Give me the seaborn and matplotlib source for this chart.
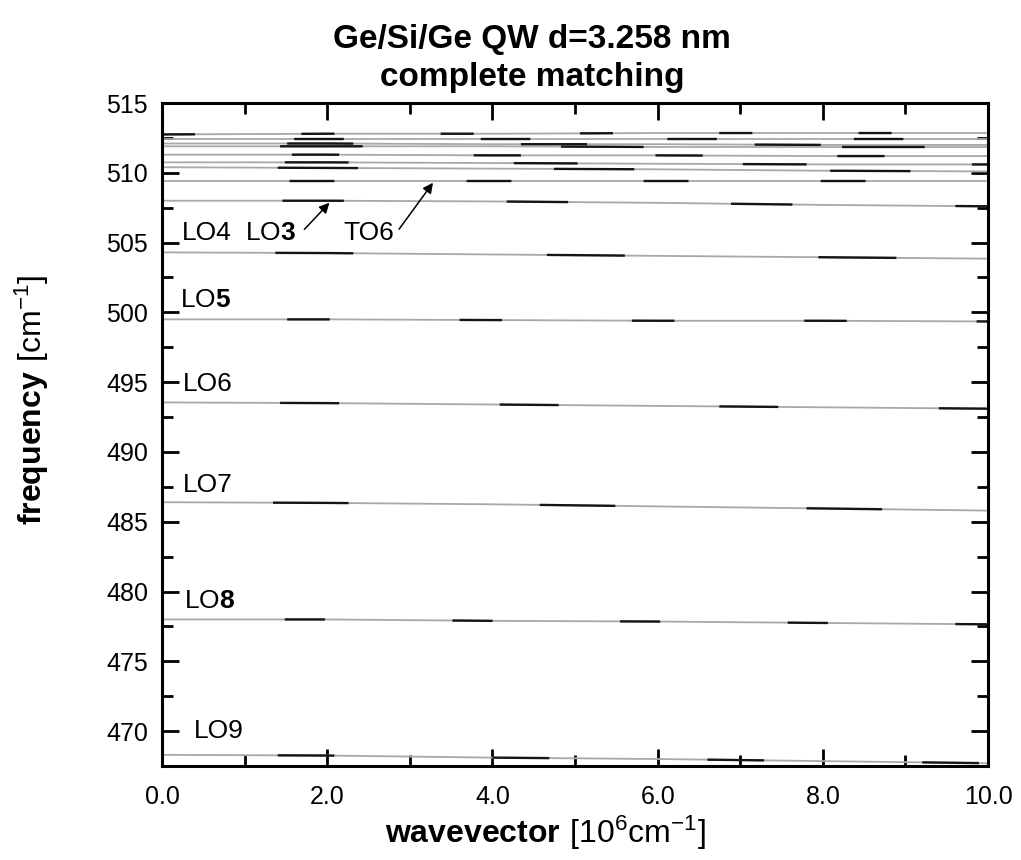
import numpy as np
import pandas as pd
import matplotlib
matplotlib.use("Agg")
import matplotlib.pyplot as plt
import seaborn as sns
from matplotlib.ticker import MultipleLocator

# wavevector [10^6 cm^-1]
k = [0, 2, 4, 6, 8, 10]

# phonon branches [cm^-1]
b1 = [512.75, 512.8, 512.8, 512.85, 512.85, 512.85]
b2 = [512.45, 512.45, 512.45, 512.45, 512.45, 512.45]
b3 = [512.1, 512.1, 512.05, 512.05, 512.0, 512.0]
b4 = [511.9, 511.9, 511.9, 511.85, 511.85, 511.85]
b5 = [511.3, 511.3, 511.25, 511.25, 511.2, 511.2]
b6 = [510.75, 510.75, 510.7, 510.65, 510.6, 510.6]
b7 = [510.4, 510.35, 510.3, 510.25, 510.15, 510.1]
to6 = [509.4, 509.4, 509.4, 509.4, 509.4, 509.4]
lo3 = [508.0, 508.0, 507.95, 507.85, 507.7, 507.6]
lo4 = [504.3, 504.25, 504.15, 504.05, 503.95, 503.85]
lo5 = [499.5, 499.5, 499.45, 499.4, 499.4, 499.35]
lo6 = [493.55, 493.5, 493.4, 493.3, 493.2, 493.1]
lo7 = [486.4, 486.35, 486.25, 486.1, 485.95, 485.8]
lo8 = [478.0, 478.0, 477.9, 477.85, 477.75, 477.65]
lo9 = [468.3, 468.25, 468.1, 468.0, 467.85, 467.7]

branches = {"b1": b1, "b2": b2, "b3": b3, "b4": b4, "b5": b5, "b6": b6, "b7": b7,
            "TO6": to6, "LO3": lo3, "LO4": lo4, "LO5": lo5, "LO6": lo6,
            "LO7": lo7, "LO8": lo8, "LO9": lo9}

# mode labels: text, x, y
labels = ["LO4", r"LO$\mathbf{3}$", "TO6", r"LO$\mathbf{5}$", "LO6", "LO7", r"LO$\mathbf{8}$", "LO9"]
label_x = [0.24, 1.0, 2.2, 0.22, 0.25, 0.25, 0.27, 0.38]
label_y = [505.7, 505.7, 505.7, 500.9, 494.9, 487.6, 479.3, 470.0]

df = pd.concat([pd.DataFrame({"k": k, "freq": v, "mode": name})
                for name, v in branches.items()], ignore_index=True)

sns.set_style("white")
plt.rcParams['font.family'] = ['Liberation Sans', 'DejaVu Sans']
plt.rcParams['mathtext.fontset'] = 'custom'
plt.rcParams['mathtext.rm'] = 'Liberation Sans'
plt.rcParams['mathtext.bf'] = 'Liberation Sans:bold'
plt.rcParams['text.color'] = 'black'
plt.rcParams['axes.labelcolor'] = 'black'
plt.rcParams['xtick.color'] = 'black'
plt.rcParams['ytick.color'] = 'black'

fig = plt.figure(figsize=(10.21, 8.6), dpi=100)
ax = fig.add_axes([0.1587, 0.1093, 0.809, 0.7709])

# gray base lines (dotted look in the scan)
sns.lineplot(data=df, x="k", y="freq", units="mode", estimator=None,
             color="#a8a8a8", linewidth=1.3, ax=ax, legend=False)
# black segments, staggered per branch
for i, name in enumerate(branches):
    sub = df[df["mode"] == name]
    pattern = (i * 23 % 70, (14 + i * 7 % 22, 45 + i * 13 % 40))
    sns.lineplot(data=sub, x="k", y="freq", estimator=None, color="#151515",
                 linewidth=1.7, linestyle=pattern, ax=ax, legend=False)

for t, x, y in zip(labels, label_x, label_y):
    ax.text(x, y, t, fontsize=19, va="center", ha="left")

ax.annotate("", xy=(2.05, 508.0), xytext=(1.7, 505.8),
            arrowprops=dict(arrowstyle="-|>", color="black", lw=1.1, mutation_scale=15))
ax.annotate("", xy=(3.3, 509.45), xytext=(2.85, 505.8),
            arrowprops=dict(arrowstyle="-|>", color="black", lw=1.1, mutation_scale=15))

ax.set_xlim(0, 10)
ax.set_ylim(467.5, 515)
ax.xaxis.set_major_locator(MultipleLocator(2))
ax.xaxis.set_minor_locator(MultipleLocator(1))
ax.yaxis.set_major_locator(MultipleLocator(5))
ax.yaxis.set_minor_locator(MultipleLocator(2.5))
ax.set_xticklabels([f"{v:.1f}" for v in ax.get_xticks()])
ax.tick_params(which="both", direction="in", top=True, right=True, bottom=True, left=True,
               width=2, labelsize=18, color="black", labelcolor="black")
ax.tick_params(which="major", length=12)
ax.tick_params(which="minor", length=8)
ax.tick_params(axis="x", pad=14)
ax.tick_params(axis="y", pad=10)
for s in ax.spines.values():
    s.set_linewidth(2.2)
    s.set_color("black")

ax.set_xlabel(r"$\mathbf{wavevector}\ \mathrm{[10^{6}cm^{-1}]}$", fontsize=23, color="black")
ax.set_ylabel(r"$\mathbf{frequency}\ \mathrm{[cm^{-1}]}$", fontsize=23, color="black")
ax.xaxis.set_label_coords(0.464, -0.072)
ax.yaxis.set_label_coords(-0.135, 0.552)

fig.text(0.521, 0.954, "Ge/Si/Ge QW d=3.258 nm", ha="center", va="center",
         fontsize=24, fontweight="bold", color="black")
fig.text(0.521, 0.910, "complete matching", ha="center", va="center",
         fontsize=24, fontweight="bold", color="black")

plt.savefig("out.png", dpi=100)
